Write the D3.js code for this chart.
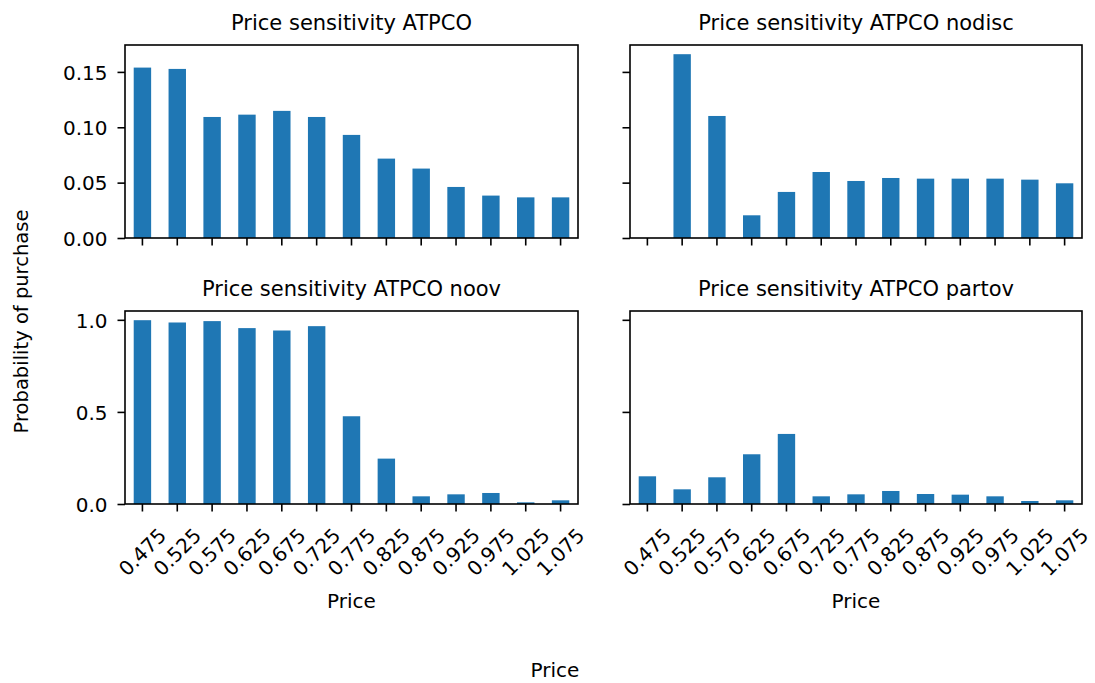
<!DOCTYPE html>
<html>
<head>
<meta charset="utf-8">
<script src="https://cdn.jsdelivr.net/npm/d3@7"></script>
<style>
	body { margin: 0; background: #fff; }
	svg { display: block; font-family: "DejaVu Sans", sans-serif; }
	.tick line { stroke: #000; stroke-width: 1.6; }
	.tick text { fill: #000; font-size: 20px; font-family: "DejaVu Sans", sans-serif; }
</style>
</head>
<body>
<svg id="chart" width="1095" height="683"></svg>
<script>

var prices = ['0.475', '0.525', '0.575', '0.625', '0.675', '0.725', '0.775', '0.825', '0.875', '0.925', '0.975', '1.025', '1.075'];

var atpco = [0.1539, 0.1527, 0.1093, 0.1114, 0.1148, 0.1093, 0.0931, 0.0717, 0.0627, 0.0461, 0.0383, 0.0367, 0.0367];
var atpcoNodisc = [0, 0.1660, 0.1102, 0.0205, 0.0416, 0.0596, 0.0515, 0.0542, 0.0536, 0.0536, 0.0536, 0.0527, 0.0494];
var atpcoNoov = [0.998, 0.9855, 0.993, 0.955, 0.942, 0.9656, 0.4764, 0.2464, 0.0417, 0.0525, 0.0598, 0.009, 0.02];
var atpcoPartov = [0.1504, 0.0797, 0.145, 0.27, 0.3804, 0.0417, 0.0525, 0.0707, 0.0543, 0.0507, 0.0417, 0.0163, 0.02];

var titles = ['Price sensitivity ATPCO', 'Price sensitivity ATPCO nodisc', 'Price sensitivity ATPCO noov', 'Price sensitivity ATPCO partov'];

var yTicksTop = [0, 0.05, 0.10, 0.15];
var yTicksBottom = [0, 0.5, 1.0];

var BAR_COLOR = '#1f77b4';
var TICK_LEN = 7.5;

var svg = d3.select('#chart');

var cols = [[125, 578], [630, 1082]];
var rows = [[45, 238], [311, 504]];

// shared y per row, like matplotlib sharey with 5% margin
var yTop = d3.scaleLinear()
	.domain([0, d3.max(atpco.concat(atpcoNodisc)) * 1.05])
	.range([rows[0][1], rows[0][0]]);
var yBottom = d3.scaleLinear()
	.domain([0, d3.max(atpcoNoov.concat(atpcoPartov)) * 1.05])
	.range([rows[1][1], rows[1][0]]);

var panels = [
	{ title: titles[0], values: atpco, row: 0, col: 0, y: yTop, yTicks: yTicksTop, fmt: d3.format('.2f') },
	{ title: titles[1], values: atpcoNodisc, row: 0, col: 1, y: yTop, yTicks: yTicksTop, fmt: d3.format('.2f') },
	{ title: titles[2], values: atpcoNoov, row: 1, col: 0, y: yBottom, yTicks: yTicksBottom, fmt: d3.format('.1f') },
	{ title: titles[3], values: atpcoPartov, row: 1, col: 1, y: yBottom, yTicks: yTicksBottom, fmt: d3.format('.1f') }
];

panels.forEach(drawPanel);

function drawPanel(p) {
	var left = cols[p.col][0], right = cols[p.col][1];
	var top = rows[p.row][0], bottom = rows[p.row][1];

	var x = d3.scaleBand()
		.domain(prices)
		.range([left, right])
		.paddingInner(0.5)
		.paddingOuter(0.25);

	var g = svg.append('g');

	g.selectAll('rect.bar')
		.data(p.values)
		.enter()
		.append('rect')
		.attr('class', 'bar')
		.attr('x', function (d, i) { return x(prices[i]); })
		.attr('y', function (d) { return p.y(d); })
		.attr('width', x.bandwidth())
		.attr('height', function (d) { return p.y(0) - p.y(d); })
		.attr('fill', BAR_COLOR);

	// y axis
	var yAxis = d3.axisLeft(p.y)
		.tickValues(p.yTicks)
		.tickSize(TICK_LEN)
		.tickSizeOuter(0)
		.tickPadding(10)
		.tickFormat(p.col === 0 ? p.fmt : '');
	var ya = g.append('g')
		.attr('transform', 'translate(' + left + ',0)')
		.call(yAxis);
	ya.select('.domain').remove();
	ya.selectAll('text').attr('dy', '0.36em');

	// x axis
	var xAxis = d3.axisBottom(x)
		.tickSize(TICK_LEN)
		.tickSizeOuter(0)
		.tickFormat(p.row === 1 ? null : '');
	var xa = g.append('g')
		.attr('transform', 'translate(0,' + bottom + ')')
		.call(xAxis);
	xa.select('.domain').remove();
	if (p.row === 1) {
		xa.selectAll('text')
			.attr('y', null)
			.attr('dy', null)
			.attr('text-anchor', 'middle')
			.attr('dominant-baseline', 'central')
			.attr('transform', 'translate(0,48) rotate(-45)');

		g.append('text')
			.attr('x', (left + right) / 2)
			.attr('y', 608)
			.attr('text-anchor', 'middle')
			.attr('font-size', 20)
			.text('Price');
	}

	// frame
	g.append('rect')
		.attr('x', left)
		.attr('y', top)
		.attr('width', right - left)
		.attr('height', bottom - top)
		.attr('fill', 'none')
		.attr('stroke', '#000')
		.attr('stroke-width', 1.6);

	g.append('text')
		.attr('x', (left + right) / 2)
		.attr('y', top - 15)
		.attr('text-anchor', 'middle')
		.attr('font-size', 21)
		.text(p.title);
}

// figure-level labels
svg.append('text')
	.attr('x', 555)
	.attr('y', 677)
	.attr('text-anchor', 'middle')
	.attr('font-size', 20)
	.text('Price');

svg.append('text')
	.attr('transform', 'translate(28,321.5) rotate(-90)')
	.attr('text-anchor', 'middle')
	.attr('font-size', 19.5)
	.text('Probability of purchase');

</script>
</body>
</html>
